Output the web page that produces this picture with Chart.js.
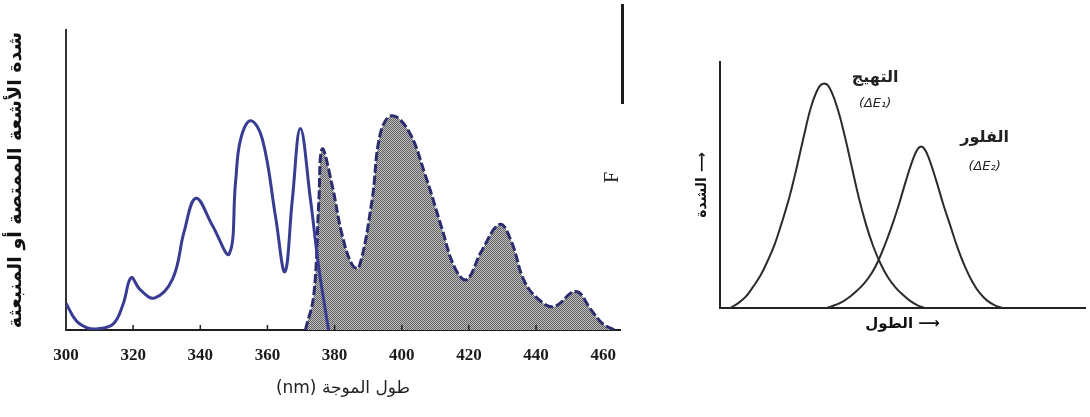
<!DOCTYPE html>
<html>
<head>
<meta charset="utf-8">
<script src="https://cdn.jsdelivr.net/npm/chart.js@4.4.1/dist/chart.umd.min.js"></script>
<style>
  html, body { margin: 0; padding: 0; background: #fff; }
  #wrap { position: relative; width: 1090px; height: 417px; overflow: hidden; }
  #spectrumChart { position: absolute; left: 0; top: 0; }
  #bandChart { position: absolute; left: 640px; top: 0; }
  #edge { position: absolute; left: 621px; top: 4px; width: 3px; height: 100px; background: #1c1c1c; }
  #letterF { position: absolute; left: 606px; top: 166px; font: 20px "Liberation Serif", serif; color: #222; transform: rotate(-90deg); }
</style>
</head>
<body>
<div id="wrap">
  <canvas id="spectrumChart" width="640" height="417"></canvas>
  <div id="edge"></div>
  <div id="letterF">F</div>
  <canvas id="bandChart" width="450" height="417"></canvas>
</div>
<script>
// left chart : absorption (solid) and emission (dashed, shaded)
const xTickValues = [300, 320, 340, 360, 380, 400, 420, 440, 460];

const absorptionNm = [300, 303, 306, 309, 314, 317, 319.4, 322, 326.3, 331.8, 335.2, 338.7, 343.6, 348.6, 350.5, 352, 355, 358.5, 362.4, 365.2, 367.4, 369.8, 372.8, 375.3, 378.2];
const absorptionIntensity = [0.125, 0.044, 0.012, 0.005, 0.027, 0.12, 0.244, 0.19, 0.149, 0.24, 0.46, 0.615, 0.488, 0.355, 0.69, 0.89, 0.977, 0.89, 0.53, 0.272, 0.607, 0.94, 0.61, 0.29, 0];

const emissionNm = [371.3, 373.8, 375.3, 376.3, 379.2, 382.2, 385.2, 387.2, 391.1, 393.6, 397, 402, 406.9, 411.9, 415.8, 419.3, 423.7, 429.2, 432.6, 436.6, 441.5, 445.5, 451.9, 456.4, 459.8, 463.3];
const emissionIntensity = [0, 0.164, 0.6, 0.845, 0.68, 0.446, 0.305, 0.29, 0.6, 0.915, 1.0, 0.93, 0.728, 0.477, 0.29, 0.235, 0.366, 0.493, 0.415, 0.225, 0.133, 0.11, 0.18, 0.094, 0.03, 0];

// right chart : excitation and fluorescence bands
const excitationPos = [2.8, 5, 7, 9, 11, 13, 15, 17, 19, 21, 23, 25, 27, 28.3, 29.8, 32, 34, 36, 38, 40, 42, 44, 46, 48, 50, 52, 54, 56];
const excitationVal = [0, 0.02, 0.045, 0.085, 0.13, 0.19, 0.26, 0.35, 0.45, 0.57, 0.7, 0.82, 0.895, 0.912, 0.9, 0.82, 0.71, 0.58, 0.45, 0.34, 0.25, 0.18, 0.125, 0.085, 0.055, 0.03, 0.012, 0];
const fluorPos = [29.3, 31.5, 33.5, 35.5, 37.5, 39.5, 41.5, 43.3, 45, 47, 49, 51, 53, 54.1, 55.1, 56.1, 57.2, 59.2, 61.2, 63.2, 65.2, 67.2, 69.2, 71.2, 73.2, 75.2, 77.3];
const fluorVal = [0, 0.012, 0.025, 0.045, 0.07, 0.1, 0.14, 0.19, 0.25, 0.33, 0.42, 0.52, 0.61, 0.645, 0.657, 0.645, 0.61, 0.52, 0.42, 0.33, 0.24, 0.165, 0.105, 0.06, 0.03, 0.012, 0];

const toPoints = (xs, ys) => xs.map((x, i) => ({ x: x, y: ys[i] }));

const arabicFont = "'DejaVu Sans', sans-serif";

// dotted grey shading like the printed figure
function makeStipple(ctx) {
    const tile = document.createElement('canvas');
    tile.width = 2; tile.height = 2;
    const g = tile.getContext('2d');
    g.fillStyle = '#c4c4c4'; g.fillRect(0, 0, 2, 2);
    g.fillStyle = '#5c5c5c'; g.fillRect(0, 0, 1, 1); g.fillRect(1, 1, 1, 1);
    return ctx.createPattern(tile, 'repeat');
}

const innerTicks = {
    id: 'innerTicks',
    afterDatasetsDraw(chart) {
        const ctx = chart.ctx, xs = chart.scales.x, bottom = chart.chartArea.bottom;
        ctx.save();
        ctx.strokeStyle = '#222';
        ctx.lineWidth = 1.5;
        xTickValues.slice(1, -1).forEach(v => {
            const px = xs.getPixelForValue(v);
            ctx.beginPath();
            ctx.moveTo(px, bottom);
            ctx.lineTo(px, bottom - 5);
            ctx.stroke();
        });
        ctx.restore();
    }
};

const leftCtx = document.getElementById('spectrumChart').getContext('2d');
new Chart(leftCtx, {
    type: 'line',
    data: {
        datasets: [{
            data: toPoints(absorptionNm, absorptionIntensity),
            borderColor: '#383c92',
            borderWidth: 3,
            fill: false,
            tension: 0.4
        }, {
            data: toPoints(emissionNm, emissionIntensity),
            borderColor: '#2a2d6e',
            borderWidth: 3,
            borderDash: [9, 3],
            backgroundColor: makeStipple(leftCtx),
            fill: 'origin',
            tension: 0.4
        }]
    },
    options: {
        responsive: false,
        animation: false,
        layout: { padding: { top: 30, right: 20, left: 0, bottom: 0 } },
        elements: { point: { radius: 0 } },
        plugins: { legend: { display: false }, tooltip: { enabled: false } },
        scales: {
            x: {
                type: 'linear',
                min: 300,
                max: 465,
                afterBuildTicks: s => { s.ticks = xTickValues.map(v => ({ value: v })); },
                afterFit: s => { s.height = 87; },
                grid: { display: false, drawTicks: false },
                border: { color: '#1e1e1e', width: 2 },
                ticks: {
                    color: '#1a1a1a',
                    padding: 15,
                    font: { family: "'Liberation Serif', serif", size: 17, weight: 'bold' }
                },
                title: {
                    display: true,
                    text: '(nm) طول الموجة',
                    color: '#222',
                    font: { family: arabicFont, size: 17 },
                    padding: { top: 0, bottom: 18 }
                }
            },
            y: {
                min: 0,
                max: 1.4,
                afterFit: s => { s.width = 66; },
                grid: { display: false, drawTicks: false },
                border: { color: '#333', width: 2 },
                ticks: { display: false },
                title: {
                    display: true,
                    text: 'شدة الأشعة الممتصة أو المنبعثة',
                    color: '#111',
                    font: { family: arabicFont, size: 19, weight: 'bold' },
                    padding: { top: 5, bottom: 0 }
                }
            }
        }
    },
    plugins: [innerTicks]
});

// curve captions on the right chart
const bandLabels = {
    id: 'bandLabels',
    afterDatasetsDraw(chart) {
        const ctx = chart.ctx, xs = chart.scales.x, ys = chart.scales.y;
        const put = (txt, x, y, font) => {
            ctx.font = font;
            ctx.fillText(txt, xs.getPixelForValue(x), ys.getPixelForValue(y));
        };
        ctx.save();
        ctx.fillStyle = '#222';
        ctx.textAlign = 'center';
        ctx.textBaseline = 'middle';
        put('التهيج', 42.5, 0.935, "bold 16px " + arabicFont);
        put('(ΔE₁)', 42.5, 0.83, "italic 13px " + arabicFont);
        put('الفلور', 72.5, 0.69, "bold 16px " + arabicFont);
        put('(ΔE₂)', 72.5, 0.575, "italic 13px " + arabicFont);
        ctx.restore();
    }
};

const rightCtx = document.getElementById('bandChart').getContext('2d');
new Chart(rightCtx, {
    type: 'line',
    data: {
        datasets: [{
            data: toPoints(excitationPos, excitationVal),
            borderColor: '#2b2b2b',
            borderWidth: 2,
            tension: 0.4
        }, {
            data: toPoints(fluorPos, fluorVal),
            borderColor: '#2b2b2b',
            borderWidth: 2,
            tension: 0.4
        }]
    },
    options: {
        responsive: false,
        animation: false,
        layout: { padding: { top: 62, right: 5, left: 50, bottom: 0 } },
        elements: { point: { radius: 0 } },
        plugins: { legend: { display: false }, tooltip: { enabled: false } },
        scales: {
            x: {
                type: 'linear',
                min: 0,
                max: 100,
                afterFit: s => { s.height = 109; },
                grid: { display: false, drawTicks: false },
                border: { color: '#222', width: 2 },
                ticks: { display: false },
                title: {
                    display: true,
                    text: 'الطول ⟶',
                    color: '#111',
                    font: { family: arabicFont, size: 15, weight: 'bold' },
                    padding: { top: 0, bottom: 84 }
                }
            },
            y: {
                min: 0,
                max: 1,
                afterFit: s => { s.width = 30; },
                grid: { display: false, drawTicks: false },
                border: { color: '#222', width: 2 },
                ticks: { display: false },
                title: {
                    display: true,
                    text: 'الشدة ⟶',
                    color: '#111',
                    font: { family: arabicFont, size: 14, weight: 'bold' },
                    padding: { top: 4, bottom: 0 }
                }
            }
        }
    },
    plugins: [bandLabels]
});
</script>
</body>
</html>
